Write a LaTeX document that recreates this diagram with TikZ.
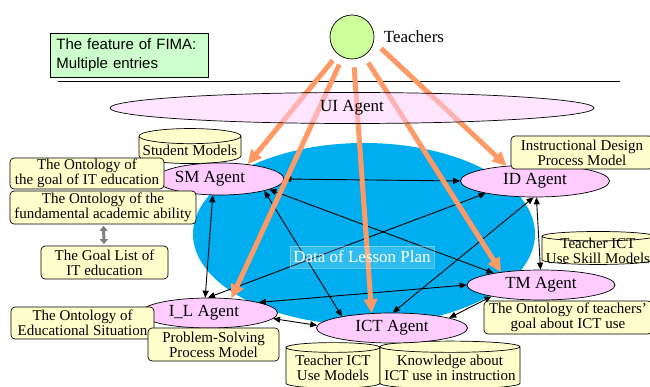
\documentclass[tikz,border=0pt]{standalone}
\usepackage{fontspec}
\setmainfont{Liberation Serif}
\setsansfont{Liberation Sans}
\usepackage{tikz}
\usetikzlibrary{shapes,arrows.meta}
\definecolor{agentpink}{HTML}{FFCCFF}
\definecolor{notecream}{HTML}{FFFFCC}
\definecolor{featgreen}{HTML}{CCFFCC}
\definecolor{headgreen}{HTML}{CCFF99}
\definecolor{planblue}{HTML}{00AEEF}
\definecolor{entryorange}{HTML}{FF9966}
\newcommand{\agentfont}{\fontsize{17}{17}\selectfont}
\newcommand{\notefont}{\fontsize{15}{15}\selectfont}
\tikzstyle{agent}=[ellipse,draw,fill=agentpink,inner sep=0pt,font=\agentfont,line width=0.7pt]
\tikzstyle{note}=[rectangle,rounded corners=4pt,draw,fill=notecream,align=center,font=\notefont,inner sep=0pt,line width=0.7pt]
\tikzstyle{store}=[cylinder,shape border rotate=90,aspect=0.16,draw,fill=notecream,align=center,font=\notefont,inner sep=0pt,line width=0.7pt]
\tikzstyle{link}=[{Triangle[length=7pt,width=6pt]}-{Triangle[length=7pt,width=6pt]},line width=0.9pt]
\tikzstyle{entry}=[-{Triangle[length=14pt,width=13pt]},line width=5pt,draw=entryorange,shorten <=8pt]

\begin{document}
\begin{tikzpicture}[x=1pt,y=-1pt]
        \useasboundingbox (0,0) rectangle (650,387);
        \node[draw,fill=featgreen,anchor=north west,minimum width=158pt,minimum height=44pt,text width=146pt,align=left,inner sep=0pt,line width=0.7pt,font=\sffamily\fontsize{15}{18.5}\selectfont] (feature) at (50,33) {The feature of FIMA:\\Multiple entries};
        \draw[line width=0.8pt] (58,81) -- (620,81);
        \node[circle,draw,fill=headgreen,minimum size=44pt,line width=0.7pt,label={[font=\agentfont,label distance=6pt]right:Teachers}] (teachers) at (352,37) {};

        \node[ellipse,fill=planblue,minimum width=342pt,minimum height=182pt] (plan) at (364,234) {};

        \node[store,minimum width=102pt,minimum height=35pt] (studmod) at (190,150) {Student Models};
        \node[store,aspect=0.09,minimum width=112pt,minimum height=0pt,inner ysep=-3.5pt] (skillmod) at (598,250.5) {Teacher ICT\\Use Skill Models};
        \node[store,aspect=0.13,minimum width=94pt,minimum height=0pt,inner ysep=2.5pt] (usemod) at (333,368) {Teacher ICT\\Use Models};
        \node[store,aspect=0.086,minimum width=140pt,minimum height=0pt,inner ysep=2.5pt] (knowledge) at (450,368) {Knowledge about\\ICT use in instruction};

        \node[agent,minimum width=125pt,minimum height=32pt] (sm) at (220,179) {SM Agent\hspace*{20pt}};
        \node[agent,minimum width=149pt,minimum height=32pt] (id) at (535,181) {ID Agent};
        \node[agent,minimum width=137pt,minimum height=30pt] (il) at (209,313) {I\_L Agent\hspace*{10pt}};
        \node[agent,minimum width=151pt,minimum height=30pt] (ict) at (392,328) {ICT Agent};
        \node[agent,minimum width=148pt,minimum height=30pt] (tm) at (541,285) {TM Agent};

        \node[note,minimum width=154pt,minimum height=31pt] (goalont) at (87,173.5) {The Ontology of\\the goal of IT education};
        \node[note,minimum width=186pt,minimum height=33pt] (abilityont) at (103,207.5) {The Ontology of the\\fundamental academic ability};
        \node[note,minimum width=127pt,minimum height=33pt] (goallist) at (104.5,262.5) {The Goal List of\\IT education};
        \node[note,minimum width=143pt,minimum height=32pt] (situationont) at (82.5,323) {The Ontology of\\Educational Situation};
        \node[note,minimum width=131pt,minimum height=33pt] (psmodel) at (213.5,344.5) {Problem-Solving\\Process Model};
        \node[note,minimum width=168pt,minimum height=33pt] (teacheront) at (568,317.5) {The Ontology of teachers'\\goal about ICT use};
        \node[note,minimum width=142pt,minimum height=33pt] (idmodel) at (582,152.5) {Instructional Design\\Process Model};

        \draw[{Triangle[length=5pt,width=8pt]}-{Triangle[length=5pt,width=8pt]},line width=3pt,gray,shorten <=1.5pt,shorten >=1.5pt] (abilityont) -- (goallist);

        \draw[link] (sm.east) -- (id.west);
        \draw[link] (sm.-114) -- (il.104);
        \draw[link] (sm.-15) -- (ict.167);
        \draw[link] (sm.-12) -- (tm.166);
        \draw[link] (il.94) -- (id.194);
        \draw[link] (il.12) -- (tm.west);
        \draw[link] (il.-5) -- (ict.178);
        \draw[link] (ict.87) -- (id.-95);
        \draw[link] (ict.10) -- (tm.193);
        \draw[link] (id.-85) -- (tm.92);

        \draw[entry] (teachers) -- (sm.28);
        \draw[entry] (teachers) -- (il.33);
        \draw[entry] (teachers) -- (ict.144);
        \draw[entry] (teachers) -- (tm.162);
        \draw[entry,shorten <=10pt] (teachers.-12) -- (id.152);

        \node[ellipse,draw,fill=agentpink,fill opacity=0.5,text opacity=1,minimum width=484pt,minimum height=31pt,font=\agentfont,line width=0.7pt] (ui) at (352,108) {UI Agent};
        \node[fill=white,fill opacity=0.18,draw=white,draw opacity=0.35,text=white,text opacity=1,minimum width=144pt,minimum height=22pt,inner sep=0pt,font=\agentfont] (planlabel) at (362,257) {Data of Lesson Plan};
\end{tikzpicture}
\end{document}
